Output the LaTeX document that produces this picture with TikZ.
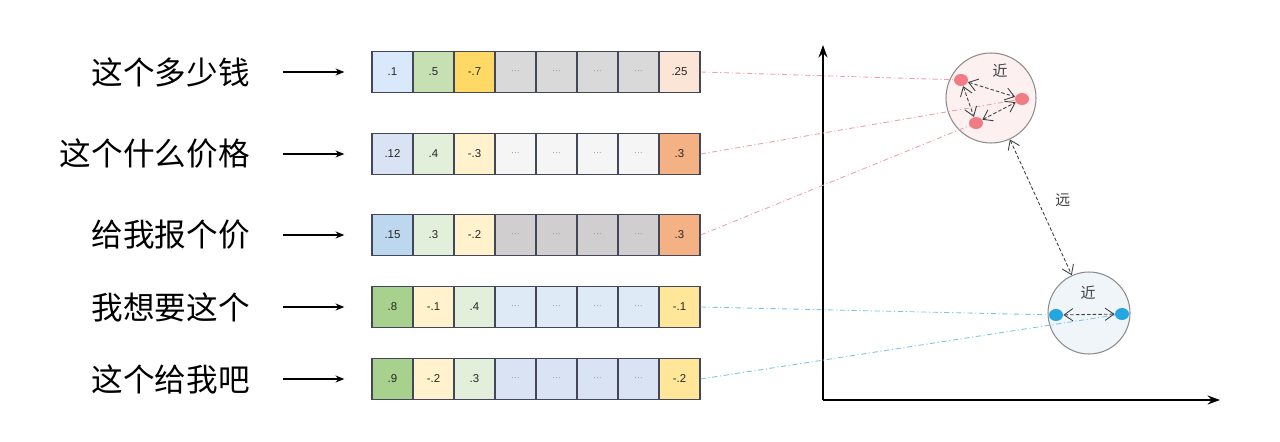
\documentclass[tikz,border=0pt]{standalone}
\usepackage{fontspec}
\setmainfont{Liberation Sans}
\newfontfamily\cjk{Noto Sans CJK SC}
\usetikzlibrary{arrows.meta,shapes.geometric}

\definecolor{cellline}{HTML}{44475A}
\definecolor{bA}{HTML}{DAE8FC}
\definecolor{bB}{HTML}{DAE3F3}
\definecolor{bC}{HTML}{BDD7EE}
\definecolor{bD}{HTML}{DEEBF7}
\definecolor{gA}{HTML}{C6E0B4}
\definecolor{gB}{HTML}{E2EFDA}
\definecolor{gC}{HTML}{A9D18E}
\definecolor{yA}{HTML}{FFD966}
\definecolor{yB}{HTML}{FFF2CC}
\definecolor{yC}{HTML}{FFE699}
\definecolor{kA}{HTML}{D9D9D9}
\definecolor{kB}{HTML}{F5F5F5}
\definecolor{kC}{HTML}{D0CECE}
\definecolor{oA}{HTML}{FBE5D6}
\definecolor{oB}{HTML}{F4B183}
\definecolor{dotred}{HTML}{F07C84}
\definecolor{dotblue}{HTML}{25A6E3}
\definecolor{linkred}{HTML}{F0A0A8}
\definecolor{linkblue}{HTML}{80C4E0}
\definecolor{fillred}{HTML}{FDF0F0}
\definecolor{fillblue}{HTML}{F0F5FA}

\newcommand{\celldots}{\textcolor{black!45}{\fontsize{5}{5}\selectfont ···}}

\begin{document}
\begin{tikzpicture}[x=0.02cm,y=-0.02cm,
	sentence/.style={anchor=east,inner sep=0pt,font=\cjk\fontsize{18}{20}\selectfont},
	cell/.style={draw=cellline,line width=0.8pt,minimum width=0.82cm,minimum height=0.82cm,
		inner sep=0pt,text=black!85,font=\fontsize{6.5}{7}\selectfont},
	feed/.style={-{Stealth[length=5pt,width=4pt]},line width=0.6pt,shorten <=0.66cm,shorten >=0.54cm},
	axis/.style={-{Stealth[length=7pt,width=5pt]},line width=1.2pt},
	cluster/.style={circle,draw=black!45,line width=0.6pt},
	reddot/.style={ellipse,fill=dotred,minimum width=0.28cm,minimum height=0.24cm,inner sep=0pt},
	bluedot/.style={ellipse,fill=dotblue,minimum width=0.28cm,minimum height=0.24cm,inner sep=0pt},
	redlink/.style={draw=linkred,line width=0.5pt,dash pattern=on 3pt off 1.5pt on 0.6pt off 1.5pt},
	bluelink/.style={draw=linkblue,line width=0.5pt,dash pattern=on 3pt off 1.5pt on 0.6pt off 1.5pt},
	near/.style={{Straight Barb[length=5pt,width=7pt]}-{Straight Barb[length=5pt,width=7pt]},
		black!75,line width=0.5pt,dash pattern=on 2pt off 1.2pt},
	tag/.style={inner sep=1pt,text=black!75,font=\cjk\fontsize{8.5}{9}\selectfont}]

	\useasboundingbox (0,0) rectangle (1280,442);

	% embedding rows
	\foreach \r/\y/\vals in {
		1/72/{.1/bA,.5/gA,-.7/yA,\celldots/kA,\celldots/kA,\celldots/kA,\celldots/kA,.25/oA},
		2/154/{.12/bB,.4/gB,-.3/yB,\celldots/kB,\celldots/kB,\celldots/kB,\celldots/kB,.3/oB},
		3/235/{.15/bC,.3/gB,-.2/yB,\celldots/kC,\celldots/kC,\celldots/kC,\celldots/kC,.3/oB},
		4/307/{.8/gC,-.1/yB,.4/gB,\celldots/bD,\celldots/bD,\celldots/bD,\celldots/bD,-.1/yC},
		5/379/{.9/gC,-.2/yB,.3/gB,\celldots/bB,\celldots/bB,\celldots/bB,\celldots/bB,-.2/yC}}
		\foreach \v/\c [count=\i] in \vals
			\node[cell,fill=\c] (c\r-\i) at ({392.5+(\i-1)*41},\y) {\v};

	% sentences
	\foreach \r/\y/\t in {1/72/这个多少钱,2/154/这个什么价格,3/235/给我报个价,4/307/我想要这个,5/379/这个给我吧}{
		\node[sentence] (s\r) at (250,\y) {\t};
		\draw[feed] (s\r.east) -- (c\r-1.west);
	}

	% axes
	\coordinate (o) at (823,400);
	\coordinate (ytop) at (823,45);
	\coordinate (xend) at (1220,400);
	\draw[axis] (o) -- (ytop);
	\draw[axis] (o) -- (xend);

	% clusters
	\node[cluster,fill=fillred,minimum size=1.8cm] (near1) at (991,98) {};
	\node[cluster,fill=fillblue,minimum size=1.64cm] (near2) at (1089,313) {};
	\node[tag] (n1) at (1000,71) {近};
	\node[tag] (n2) at (1088,293) {近};

	\coordinate (p1) at (961,80);
	\coordinate (p2) at (1022,99);
	\coordinate (p3) at (976,123);
	\coordinate (q1) at (1056,315);
	\coordinate (q2) at (1122,314);

	\draw[redlink] (c1-8.east) -- (p1);
	\draw[redlink] (c2-8.east) -- (p2);
	\draw[redlink] (c3-8.east) -- (p3);
	\draw[bluelink] (c4-8.east) -- (q1);
	\draw[bluelink] (c5-8.east) -- (q2);

	\node[reddot] (d1) at (p1) {};
	\node[reddot] (d2) at (p2) {};
	\node[reddot] (d3) at (p3) {};
	\node[bluedot] (e1) at (q1) {};
	\node[bluedot] (e2) at (q2) {};

	\draw[near] (d1) -- (d2);
	\draw[near] (d1) -- (d3);
	\draw[near] (d3) -- (d2);
	\draw[near] (e1) -- (e2);
	\draw[near] (near1) -- node[tag,right=7pt,yshift=4pt] (far) {远} (near2);
\end{tikzpicture}
\end{document}
